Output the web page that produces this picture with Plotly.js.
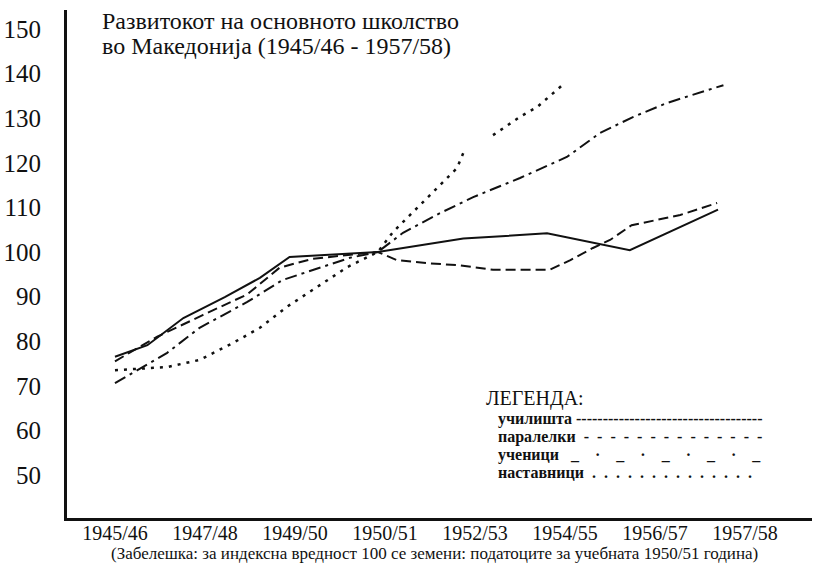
<!DOCTYPE html>
<html><head><meta charset="utf-8">
<script src="https://cdn.plot.ly/plotly-3.0.1.min.js"></script>
<style>html,body{margin:0;padding:0;background:#fff}</style>
</head><body><div id="chart" style="width:819px;height:567px"></div>
<script>
// Tick labels (evenly spaced on the original chart)
const tickLabels = ['1945/46','1947/48','1949/50','1950/51','1952/53','1954/55','1956/57','1957/58'];
const tickPos = [0,1,2,3,4,5,6,7];
const yTicks = [50,60,70,80,90,100,110,120,130,140,150];

// Series (x in tick-label units)
const schoolsX = [0,0.36,0.76,1.22,1.61,1.94,2.92,3.87,4.80,5.72,6.70];
const schoolsY = [76.5,79.1,85.2,89.9,94.2,98.9,100,103,104.2,100.4,109.5];

const classesX = [0,0.47,0.98,1.47,1.83,2.20,2.92,3.13,3.47,3.83,4.20,4.83,5.06,5.31,5.50,5.74,6.28,6.69];
const classesY = [75.5,81,85.9,90.5,96.5,98.5,100,98.2,97.5,97,96,96,98.2,100.9,102.7,106,108.3,111];

const pupilsX = [0,0.31,0.58,0.94,1.47,1.86,2.20,2.61,2.92,3.20,3.61,3.98,4.50,5.02,5.39,5.76,6.13,6.76];
const pupilsY = [70.6,74.2,77.4,83,88.8,93.7,96,98.7,100,104.3,108.7,112.3,116.6,121.3,126.7,130.3,133.4,137.4];

const teachersX = [0,0.58,0.94,1.31,1.61,1.91,2.58,2.92,3.09,3.36,3.61,3.80,3.87,3.95,4.20,4.50,4.69,4.97];
const teachersY = [73.5,74.2,75.8,79.6,83,87.7,96.6,100,104.5,110,115,118.8,122.2,null,126.2,130.3,132.5,137.4];

const titleLines = ['Развитокот на основното школство','во Македонија (1945/46 - 1957/58)'];
const legendTitle = 'ЛЕГЕНДА:';
const nb = '\u00a0';
const legendItems = [
  'училишта ' + '-'.repeat(35),
  'паралелки' + (' ' + nb + '-').repeat(14),
  'ученици' + nb.repeat(3) + ['_','·','_','·','_','·','_','·','_'].join(nb.repeat(4)),
  'наставници' + (nb + nb + '.').repeat(14)
];
const note = '(Забелешка: за индексна вредност 100 се земени: податоците за учебната 1950/51 година)';

const serif = '"Liberation Serif", "Times New Roman", serif';
const ink = '#111';

function tr(x, y, dash, w) {
  return {x: x, y: y, type: 'scatter', mode: 'lines', connectgaps: false,
    line: {color: ink, width: w, dash: dash}, hoverinfo: 'skip', showlegend: false};
}

const data = [
  tr(schoolsX, schoolsY, 'solid', 2),
  tr(classesX, classesY, '10px,5px', 2),
  tr(pupilsX, pupilsY, '12px,5px,3px,5px', 2),
  tr(teachersX, teachersY, '3px,6px', 2.5)
];

const ann = [];
titleLines.forEach((t, i) => ann.push({xref:'paper', yref:'paper', x:0.044, y: i===0?0.978:0.93,
  xanchor:'left', yanchor:'middle', text:t, showarrow:false, font:{family:serif, size:24, color:ink}}));
ann.push({xref:'paper', yref:'paper', x:0.56, y:0.236, xanchor:'left', yanchor:'middle',
  text: legendTitle, showarrow:false, font:{family:serif, size:20, color:ink}});
const legY = [0.195, 0.159, 0.124, 0.0886];
legendItems.forEach((t, i) => ann.push({xref:'paper', yref:'paper', x:0.576, y:legY[i], xanchor:'left', yanchor:'middle',
  text: '<b>' + t + '</b>', showarrow:false, font:{family:serif, size:16, color:ink}}));
ann.push({xref:'paper', yref:'paper', x:0.493, y:-0.07, xanchor:'center', yanchor:'middle',
  text: note, showarrow:false, font:{family:serif, size:17, color:ink}});

const layout = {
  width: 819, height: 567,
  margin: {l: 67, r: 7, t: 10, b: 49},
  paper_bgcolor: '#fff', plot_bgcolor: '#fff',
  font: {family: serif, color: ink},
  xaxis: {range: [-0.533, 7.744], tickvals: tickPos, ticktext: tickLabels, showgrid: false, zeroline: false,
    showline: true, linecolor: ink, linewidth: 3, ticks: '', ticklabelstandoff: -5,
    tickfont: {family: serif, size: 20, color: ink}},
  yaxis: {range: [40.36, 154.26], tickvals: yTicks, showgrid: false, zeroline: false,
    showline: true, linecolor: ink, linewidth: 3, ticks: '', ticklabelstandoff: 18,
    tickfont: {family: serif, size: 25, color: ink}},
  annotations: ann,
  showlegend: false
};

Plotly.newPlot('chart', data, layout, {displayModeBar: false, staticPlot: true});
</script></body></html>
